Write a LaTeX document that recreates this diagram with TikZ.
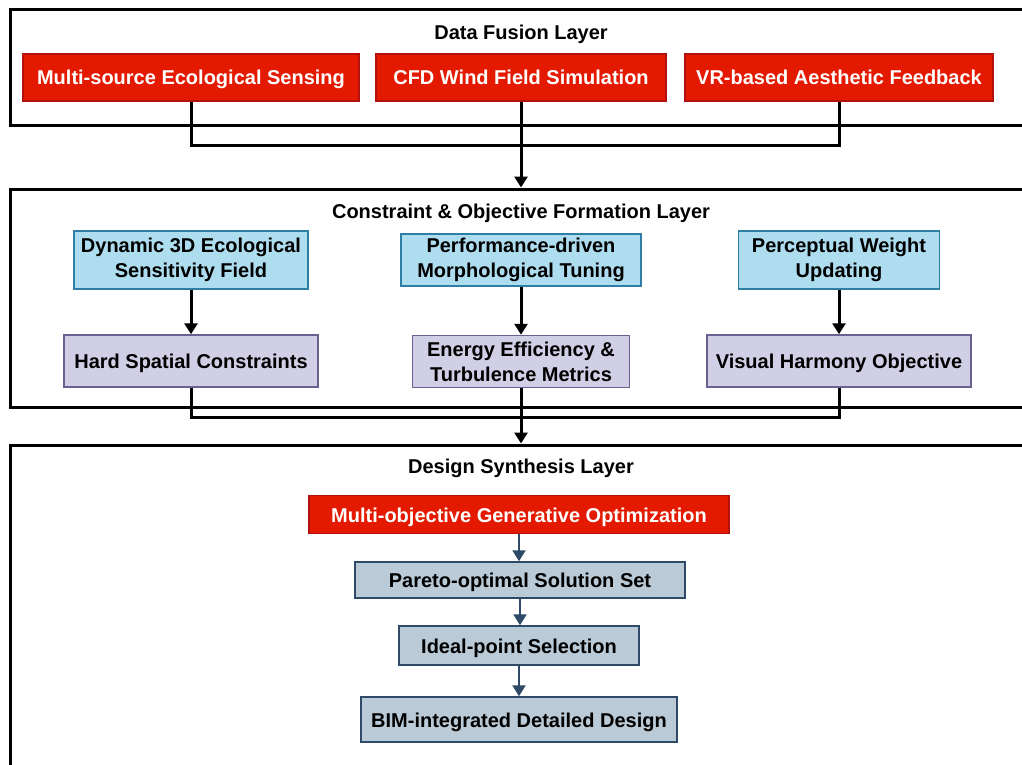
\documentclass[tikz,border=0pt]{standalone}
\usepackage{fontspec}
\setmainfont{Liberation Sans}
\usetikzlibrary{arrows.meta}
\definecolor{redfill}{HTML}{E31A00}
\definecolor{redline}{HTML}{B31010}
\definecolor{bluefill}{HTML}{ADDDEF}
\definecolor{blueline}{HTML}{2F7FA5}
\definecolor{purfill}{HTML}{D0CFE5}
\definecolor{purline}{HTML}{6A6190}
\definecolor{grayfill}{HTML}{BACAD6}
\definecolor{grayline}{HTML}{2E4A66}
\tikzset{
  base/.style={font=\bfseries\fontsize{20}{25}\selectfont, align=center, inner sep=0pt, line width=1.5pt},
  oneline/.style={text height=18pt, text depth=3pt},
  redbox/.style={base, fill=redfill, draw=redline, text=white},
  bluebox/.style={base, fill=bluefill, draw=blueline},
  purbox/.style={base, fill=purfill, draw=purline},
  graybox/.style={base, fill=grayfill, draw=grayline},
  layer/.style={draw=black, line width=3pt, inner sep=0pt},
  title/.style={font=\bfseries\fontsize{20}{25}\selectfont, inner sep=0pt, text height=18pt, text depth=3pt},
  conn/.style={line width=3pt, black},
  arr/.style={line width=3pt, black, -{Triangle[width=13pt,length=11pt]}},
  darr/.style={line width=2.2pt, grayline, -{Triangle[width=13pt,length=11pt]}}
}
\begin{document}
\begin{tikzpicture}[x=1pt,y=-1pt]
\useasboundingbox (0,0) rectangle (1022,765);
\clip (0,0) rectangle (1022,765);
% layers
\node[layer, minimum width=1030pt, minimum height=116pt] (L1) at (525,68) {};
\node[layer, minimum width=1030pt, minimum height=218pt] (L2) at (525,298) {};
\node[layer, minimum width=1030pt, minimum height=345pt] (L3) at (525,617.5) {};
% titles
\node[title] (t1) at (521,32) {Data Fusion Layer};
\node[title] (t2) at (521,211) {Constraint \& Objective Formation Layer};
\node[title] (t3) at (521,466) {Design Synthesis Layer};
% layer 1 boxes
\node[redbox, oneline, minimum width=336pt, minimum height=47pt] (mses) at (191,77.5) {Multi-source Ecological Sensing};
\node[redbox, oneline, minimum width=290pt, minimum height=47pt] (cfd) at (521,77.5) {CFD Wind Field Simulation};
\node[redbox, oneline, minimum width=308pt, minimum height=47pt] (vr) at (839,77.5) {VR-based Aesthetic Feedback};
% layer 2 boxes
\node[bluebox, minimum width=234pt, minimum height=58pt] (dyn) at (191,260) {Dynamic 3D Ecological\\Sensitivity Field};
\node[bluebox, minimum width=240pt, minimum height=52pt] (perf) at (521,260) {Performance-driven\\Morphological Tuning};
\node[bluebox, minimum width=201pt, minimum height=58pt] (perc) at (839,260) {Perceptual Weight\\Updating};
\node[purbox, oneline, minimum width=254pt, minimum height=52pt] (hard) at (191,361) {Hard Spatial Constraints};
\node[purbox, minimum width=217pt, minimum height=52pt] (energy) at (521,361.5) {Energy Efficiency \&\\Turbulence Metrics};
\node[purbox, oneline, minimum width=264pt, minimum height=52pt] (vis) at (839,361) {Visual Harmony Objective};
% layer 3 boxes
\node[redbox, oneline, minimum width=420pt, minimum height=38pt] (mogo) at (519,514.5) {Multi-objective Generative Optimization};
\node[graybox, oneline, minimum width=330pt, minimum height=36pt] (pareto) at (520,580) {Pareto-optimal Solution Set};
\node[graybox, oneline, minimum width=240pt, minimum height=39pt] (ideal) at (519,645.5) {Ideal-point Selection};
\node[graybox, oneline, minimum width=316pt, minimum height=45pt] (bim) at (519,719.5) {BIM-integrated Detailed Design};
% connectors layer 1 -> 2
\coordinate (j1) at (521,145);
\draw[conn] (mses.south) |- (j1) -| (vr.south);
\draw[arr] (cfd.south) -- (cfd.south |- L2.north);
% layer 2 internal
\draw[arr] (dyn.south) -- (hard.north);
\draw[arr] (perf.south) -- (energy.north);
\draw[arr] (perc.south) -- (vis.north);
% layer 2 -> 3
\coordinate (j2) at (521,417);
\draw[conn] (hard.south) |- (j2) -| (vis.south);
\draw[arr] (energy.south) -- (energy.south |- L3.north);
% layer 3 internal
\draw[darr] (mogo.south) -- (mogo.south |- pareto.north);
\draw[darr] (pareto.south) -- (pareto.south |- ideal.north);
\draw[darr] (ideal.south) -- (ideal.south |- bim.north);
\end{tikzpicture}
\end{document}
